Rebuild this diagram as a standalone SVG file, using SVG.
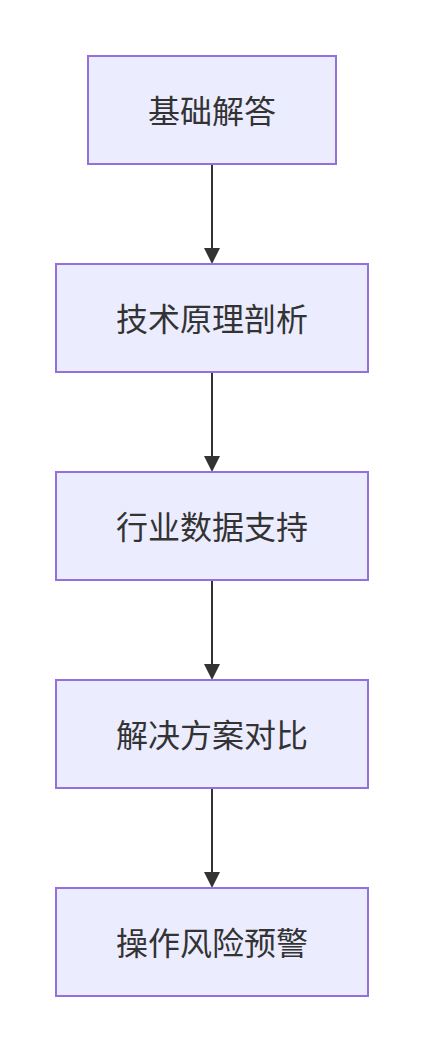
<svg xmlns="http://www.w3.org/2000/svg" width="424" height="1052" viewBox="0 0 424 1052">
<style>
.node rect{fill:#ECECFF;stroke:#9370DB;stroke-width:2}
.node text{font-family:"Noto Sans CJK SC","Liberation Sans",sans-serif;font-size:32px;fill:#333;text-anchor:middle;dominant-baseline:central}
.edge{stroke:#333;stroke-width:2;fill:none}
</style>
<defs>
<marker id="arrow" viewBox="0 0 10 10" refX="10" refY="5" markerWidth="8" markerHeight="8" markerUnits="userSpaceOnUse" orient="auto">
<path d="M0,0 L10,5 L0,10 Z" fill="#333"/>
</marker>
</defs>
<rect width="424" height="1052" fill="#fff"/>
<g id="connectors">
<path class="edge" d="M212,164 V248" />
<path d="M204,248 L220,248 L212,264 Z" fill="#333"/>
<path class="edge" d="M212,372 V456" />
<path d="M204,456 L220,456 L212,472 Z" fill="#333"/>
<path class="edge" d="M212,580 V664" />
<path d="M204,664 L220,664 L212,680 Z" fill="#333"/>
<path class="edge" d="M212,788 V872" />
<path d="M204,872 L220,872 L212,888 Z" fill="#333"/>
</g>
<g id="n1" class="node"><rect x="88" y="56" width="248" height="108"/><text x="212" y="109">基础解答</text></g>
<g id="n2" class="node"><rect x="56" y="264" width="312" height="108"/><text x="212" y="317">技术原理剖析</text></g>
<g id="n3" class="node"><rect x="56" y="472" width="312" height="108"/><text x="212" y="525">行业数据支持</text></g>
<g id="n4" class="node"><rect x="56" y="680" width="312" height="108"/><text x="212" y="733">解决方案对比</text></g>
<g id="n5" class="node"><rect x="56" y="888" width="312" height="108"/><text x="212" y="941">操作风险预警</text></g>
</svg>
